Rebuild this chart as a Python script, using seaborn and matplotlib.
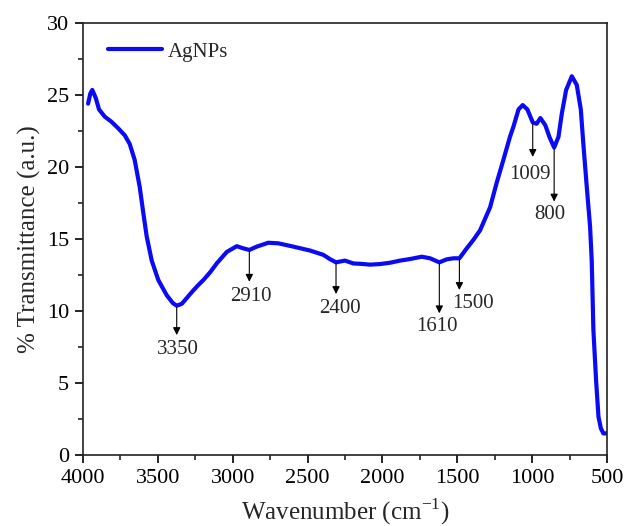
import matplotlib
matplotlib.use("Agg")
import matplotlib.pyplot as plt
import seaborn as sns
import pandas as pd
from matplotlib.ticker import MultipleLocator

# ---- data ----
wavenumber = [3966, 3951, 3938, 3915, 3893, 3855, 3811, 3766, 3721, 3688, 3655,
              3621, 3597, 3575, 3541, 3497, 3441, 3400, 3374, 3340, 3307, 3270,
              3230, 3196, 3150, 3107, 3040, 2973, 2929, 2889, 2840, 2762, 2695,
              2595, 2484, 2395, 2350, 2310, 2250, 2194, 2150, 2083, 2016, 1950,
              1882, 1810, 1737, 1682, 1620, 1570, 1526, 1486, 1437, 1393, 1348,
              1281, 1237, 1192, 1148, 1125, 1091, 1063, 1032, 996, 970, 945,
              912, 885, 853, 824, 802, 773, 735, 702, 675, 658, 635, 613, 602,
              591, 573, 557, 541, 524, 502]
transmittance = [24.4, 25.1, 25.35, 24.8, 24.0, 23.5, 23.15, 22.7, 22.2, 21.6,
                 20.5, 18.6, 16.8, 15.2, 13.5, 12.15, 11.1, 10.55, 10.37, 10.5,
                 10.9, 11.35, 11.8, 12.15, 12.7, 13.3, 14.1, 14.5, 14.35, 14.24,
                 14.47, 14.74, 14.7, 14.47, 14.2, 13.9, 13.6, 13.38, 13.5, 13.3,
                 13.28, 13.22, 13.26, 13.35, 13.5, 13.62, 13.77, 13.66, 13.38,
                 13.59, 13.66, 13.66, 14.35, 14.93, 15.6, 17.2, 18.9, 20.5, 22.1,
                 22.8, 24.0, 24.3, 24.0, 23.1, 23.0, 23.4, 22.9, 22.1, 21.35,
                 22.1, 23.7, 25.35, 26.3, 25.7, 24.0, 21.6, 18.6, 15.85, 13.5,
                 8.7, 5.2, 2.66, 1.85, 1.5, 1.5]
series_name = "AgNPs"

peak_labels = ["3350", "2910", "2400", "1610", "1500", "1009", "800"]
peak_x = [3374, 2889, 2310, 1620, 1486, 996, 853]
peak_y = [10.37, 14.24, 13.38, 13.38, 13.66, 23.1, 21.35]
arrow_tip_y = [8.33, 12.03, 11.18, 9.84, 11.46, 20.7, 17.6]
label_x = [3365, 2880, 2283, 1637, 1393, 1018, 884]
label_y = [7.3, 11.0, 10.19, 8.9, 10.53, 19.5, 16.7]

x_ticks = [4000, 3500, 3000, 2500, 2000, 1500, 1000, 500]
y_ticks = [0, 5, 10, 15, 20, 25, 30]

df = pd.DataFrame({"Wavenumber": wavenumber, "T": transmittance,
                   "Sample": series_name})

sns.set_style("ticks")
plt.rcParams["font.family"] = ["Liberation Serif", "DejaVu Serif"]
plt.rcParams["mathtext.fontset"] = "custom"
plt.rcParams["mathtext.rm"] = "Liberation Serif"

fig = plt.figure(figsize=(6.25, 5.26), dpi=100)
ax = fig.add_axes([83 / 625, 1 - 455 / 526, 524 / 625, 432 / 526])

sns.lineplot(data=df, x="Wavenumber", y="T", hue="Sample", sort=False,
             palette=["#0a0af5"], linewidth=3.0, ax=ax, estimator=None)
for ln in ax.get_lines():
    ln.set_solid_joinstyle("round")
    ln.set_solid_capstyle("round")

ax.set_xlim(4000, 500)
ax.set_ylim(0, 30)
ax.set_xticks(x_ticks)
ax.set_yticks(y_ticks)
ax.xaxis.set_minor_locator(MultipleLocator(250))
ax.yaxis.set_minor_locator(MultipleLocator(2.5))
ax.tick_params(axis="both", which="major", direction="out", length=6,
               width=1.2, labelsize=16, pad=4, colors="black")
ax.tick_params(axis="both", which="minor", direction="out", length=3.5,
               width=1.2)
for s in ax.spines.values():
    s.set_linewidth(1.2)
    s.set_color("#222222")

ax.set_xlabel(r"Wavenumber (cm$^{\mathregular{-1}}$)", fontsize=18, labelpad=6)
ax.set_ylabel("% Transmittance (a.u.)", fontsize=18, labelpad=4)

for lab, px, py, ty, lx, ly in zip(peak_labels, peak_x, peak_y, arrow_tip_y,
                                    label_x, label_y):
    ax.annotate("", xy=(px, ty), xytext=(px, py - 0.1),
                arrowprops=dict(arrowstyle="-|>", color="black", lw=0.8,
                                mutation_scale=11, shrinkA=0, shrinkB=0))
    ax.text(lx, ly, lab, ha="center", va="center", fontsize=15)

leg = ax.legend(loc="upper left", bbox_to_anchor=(0.048, 0.956), frameon=False,
                fontsize=15, handlelength=2.6, handletextpad=0.25,
                borderaxespad=0, borderpad=0, title=None)
for line in leg.get_lines():
    line.set_linewidth(3.0)

fig.savefig("out.png", dpi=100)
